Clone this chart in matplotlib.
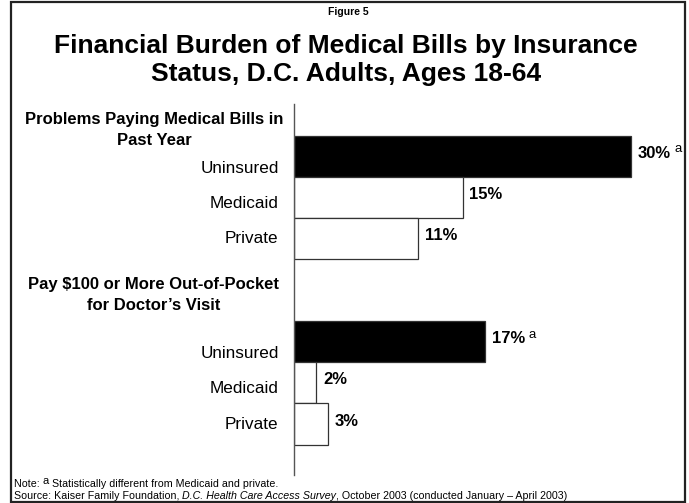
import matplotlib
matplotlib.use("Agg")
import matplotlib.pyplot as plt
from matplotlib.patches import Rectangle

plt.rcParams['font.family'] = ['Liberation Sans', 'DejaVu Sans']

# data
groups = ["Problems Paying Medical Bills in\nPast Year",
          "Pay $100 or More Out-of-Pocket\nfor Doctor\u2019s Visit"]
categories = ["Uninsured", "Medicaid", "Private"]
bills_values = [30, 15, 11]
visit_values = [17, 2, 3]
significant = [True, False, False]
positions_bills = [0, 1, 2]
positions_visit = [4.5, 5.5, 6.5]

W, H = 689, 503


def px(x, y):
    return x / W, 1 - y / H


fig = plt.figure(figsize=(W / 100, H / 100), dpi=100)

# outer frame
fig.patches.append(Rectangle(px(10.5, 502), 674 / W, 500.5 / H,
                             transform=fig.transFigure, fill=False,
                             edgecolor='#222222', linewidth=1.6))

left, right, top, bottom = 294, 684, 104, 475
ax = fig.add_axes([left / W, 1 - bottom / H, (right - left) / W, (bottom - top) / H])
scale = (631 - 294) / 30.0
ax.set_xlim(0, (right - left) / scale)
ax.set_ylim(7.74, -1.27)

tick_pos = []
for pos, vals in [(positions_bills, bills_values), (positions_visit, visit_values)]:
    colors = ['black' if s else 'white' for s in significant]
    ax.barh(pos, vals, height=1.0, color=colors, edgecolor='#333333', linewidth=0.9)
    # category labels sit a bit tighter than the bars in the original
    mid = sum(pos) / len(pos)
    tick_pos += [mid + 0.11 + (p - mid) * 0.86 for p in pos]
    for p, v, s in zip(pos, vals, significant):
        t = ax.annotate(f"{v}%", xy=(v, p), xytext=(5, 2), textcoords='offset points',
                        ha='left', va='center', fontsize=12, fontweight='bold')
        if s:
            ax.annotate("a", xy=(1, 1), xycoords=t, xytext=(2.5, 2),
                        textcoords='offset points', ha='left', va='top',
                        fontsize=9.5)

ax.set_yticks(tick_pos)
ax.set_yticklabels(categories + categories, fontsize=12.3)
ax.tick_params(axis='y', length=0, pad=11)
ax.set_xticks([])
for s in ['top', 'right', 'bottom']:
    ax.spines[s].set_visible(False)
ax.spines['left'].set_color('#555555')
ax.spines['left'].set_linewidth(1.0)

# group headers
fig.text(*px(154, 130), groups[0], ha='center', va='center', fontsize=12,
         fontweight='bold', linespacing=1.45)
fig.text(*px(154, 295), groups[1], ha='center', va='center', fontsize=12,
         fontweight='bold', linespacing=1.45)

# titles
fig.text(*px(348, 12), "Figure 5", ha='center', va='center', fontsize=7.5,
         fontweight='bold')
fig.text(*px(346, 60), "Financial Burden of Medical Bills by Insurance\n"
         "Status, D.C. Adults, Ages 18-64", ha='center', va='center',
         fontsize=19, fontweight='bold', linespacing=1.25)

# footnotes
fn = ['Liberation Sans Narrow', 'Liberation Sans']
fs = 7.65
n1 = fig.text(*px(14, 487), "Note: ", fontsize=fs, family=fn, va='baseline')
n2 = fig.text(0, 0, "a", fontsize=8, family=fn, va='baseline')
fig.canvas.draw()
r = fig.canvas.get_renderer()
bb = n1.get_window_extent(r)
n2.set_position((bb.x1 / W, (1 - 487 / H) + 3 / H))
bb2 = n2.get_window_extent(r)
fig.text((bb2.x1 + 3) / W, 1 - 487 / H, "Statistically different from Medicaid and private.",
         fontsize=fs, family=fn, va='baseline')

s1 = fig.text(*px(14, 499), "Source: Kaiser Family Foundation, ", fontsize=fs,
              family=fn, va='baseline')
s2 = fig.text(0, 0, "D.C. Health Care Access Survey", fontsize=fs, family=fn,
              style='italic', va='baseline')
fig.canvas.draw()
bb = s1.get_window_extent(r)
s2.set_position((bb.x1 / W, 1 - 499 / H))
bb = s2.get_window_extent(r)
fig.text(bb.x1 / W, 1 - 499 / H,
         ", October 2003 (conducted January \u2013 April 2003)",
         fontsize=fs, family=fn, va='baseline')

fig.savefig("out.png", dpi=100)
